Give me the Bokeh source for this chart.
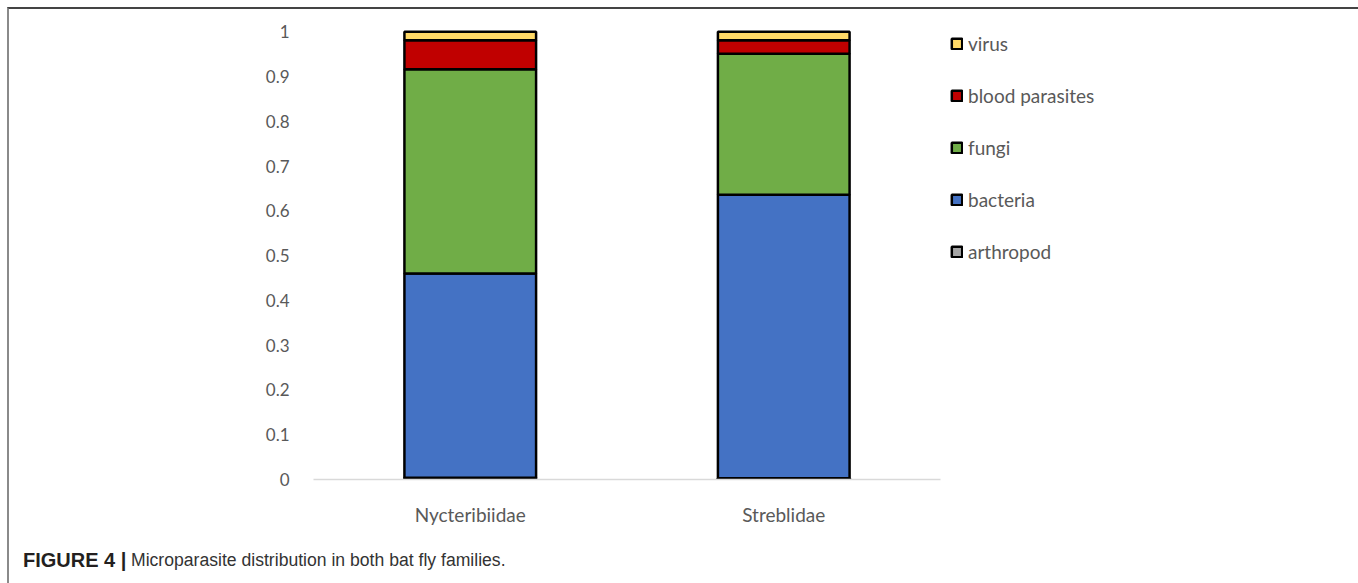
from bokeh.plotting import figure
from bokeh.layouts import column
from bokeh.models import (ColumnDataSource, Legend, LegendItem, FixedTicker,
                          Range1d, Div)
from bokeh.embed import file_html
from bokeh.resources import INLINE

# ---- data ----
families = ["Nycteribiidae", "Streblidae"]
arthropod = [0.004, 0.003]
bacteria = [0.456, 0.633]
fungi = [0.456, 0.315]
blood_parasites = [0.065, 0.030]
virus = [0.019, 0.019]
y_ticks = [0, 0.1, 0.2, 0.3, 0.4, 0.5, 0.6, 0.7, 0.8, 0.9, 1]
series_names = ["arthropod", "bacteria", "fungi", "blood parasites", "virus"]
series_keys = ["arthropod", "bacteria", "fungi", "blood_parasites", "virus"]
series_colors = ["#A5A5A5", "#4472C4", "#70AD47", "#C00000", "#FFD966"]
caption_bold = "FIGURE 4 |"
caption_text = "Microparasite distribution in both bat fly families."

source = ColumnDataSource(data=dict(
    fam=families, arthropod=arthropod, bacteria=bacteria, fungi=fungi,
    blood_parasites=blood_parasites, virus=virus))

FONT = "Lato"
W = 1346

p = figure(frame_width=627, frame_height=450, x_range=families,
           y_range=Range1d(0, 1.005),
           output_backend="svg", toolbar_location=None,
           min_border_left=304, min_border_right=0,
           min_border_top=20, min_border_bottom=50)
p.outline_line_color = None
p.background_fill_color = "white"
p.border_fill_color = "white"
p.xgrid.grid_line_color = None
p.ygrid.grid_line_color = None

renderers = p.vbar_stack(series_keys, x="fam", width=0.42, source=source,
                         fill_color=series_colors, line_color="black",
                         line_width=2.5)

# axes
p.yaxis.ticker = FixedTicker(ticks=y_ticks)
p.yaxis.major_label_overrides = {0: "0", 1: "1"}
p.yaxis.axis_line_color = None
p.yaxis.major_tick_line_color = None
p.yaxis.minor_tick_line_color = None
p.yaxis.major_label_standoff = 18
p.yaxis.major_label_text_font = FONT
p.yaxis.major_label_text_font_size = "17px"
p.yaxis.major_label_text_color = "#595959"

p.xaxis.axis_line_color = "#D9D9D9"
p.xaxis.axis_line_width = 1.5
p.xaxis.major_tick_line_color = None
p.xaxis.minor_tick_line_color = None
p.xaxis.major_label_standoff = 17
p.xaxis.major_label_text_font = FONT
p.xaxis.major_label_text_font_size = "19px"
p.xaxis.major_label_text_color = "#595959"

# legend (virus on top), placed in the right side panel
items = [LegendItem(label=n, renderers=[r]) for n, r in zip(series_names, renderers)]
legend = Legend(items=list(reversed(items)), location=(10, 216),
                border_line_color=None, background_fill_alpha=0,
                padding=0, margin=0, spacing=29, label_height=20,
                glyph_height=13, glyph_width=13, label_standoff=5,
                label_text_font=FONT, label_text_font_size="19px",
                label_text_color="#595959")
p.add_layout(legend, "right")

# caption (HTML text)
cap_html = (
    '<div style="position:relative;width:%dpx;height:54px;'
    'font-family:\'Liberation Sans\',Arial,sans-serif;">'
    '<span style="position:absolute;left:9px;top:14px;line-height:24px;'
    'white-space:nowrap;font-weight:bold;font-size:20px;color:#231f20;">%s</span>'
    '<span style="position:absolute;left:117px;top:14px;line-height:24px;'
    'white-space:nowrap;font-size:17.6px;color:#333333;">%s</span>'
    '</div>' % (W, caption_bold, caption_text)
)
cap = Div(text=cap_html, width=W, height=54)

layout = column(p, cap, spacing=0, styles={
    "margin-left": "7px", "margin-top": "7px",
    "border-top": "2px solid #444444",
    "border-left": "2px solid #8a8a8a",
    "border-right": "2px solid #8a8a8a",
})

open("out.html", "w").write(file_html(layout, INLINE))
